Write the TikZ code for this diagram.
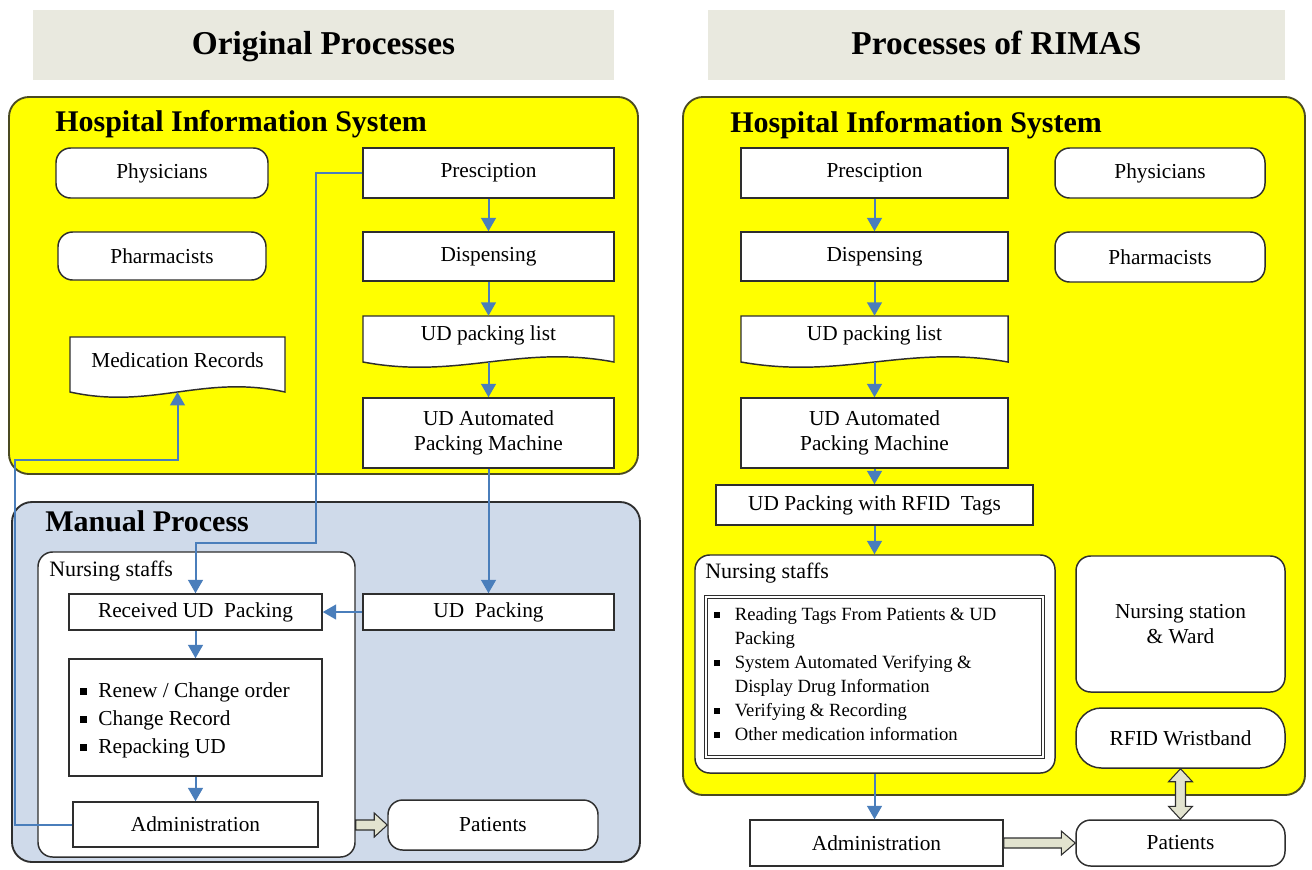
\documentclass[tikz,border=0pt]{standalone}
\usepackage{fontspec}
\setmainfont{Liberation Serif}
\usetikzlibrary{arrows.meta,calc}
\definecolor{hdrfill}{HTML}{E9E9DF}
\definecolor{hisyellow}{HTML}{FFFF00}
\definecolor{hisline}{HTML}{4A4A22}
\definecolor{manfill}{HTML}{CFDAEA}
\definecolor{boxline}{HTML}{2E2E2E}
\definecolor{flowblue}{HTML}{4A7EBB}
\definecolor{fatfill}{HTML}{E2E3CF}
\newcommand\rectnode[7]{%
  \node[#1, minimum width={(#5-#3)*0.75pt}, minimum height={(#6-#4)*0.75pt}] (#2) at ({(#3+#5)/2},{(#4+#6)/2}) {#7};}
% document shape with wavy bottom; (#1b) is the middle of the wave
\newcommand\docnode[6]{% name, x1, y1, x2, yb, text
  \draw[docline] (#2,#3) -- (#4,#3) -- (#4,#5)
    .. controls ({#2+0.62*(#4-#2)},{#5-18}) and ({#2+0.38*(#4-#2)},{#5+18}) .. (#2,#5) -- cycle;
  \node[doctext, minimum width={(#4-#2)*0.75pt}, minimum height={(#5-#3-8)*0.75pt}] (#1) at ({(#2+#4)/2},{(#3+#5-8)/2}) {#6};
  \coordinate (#1b) at ({(#2+#4)/2},#5);}
\newcommand\sqb[1]{\makebox[#1][l]{\rule[0.25ex]{0.32em}{0.32em}}}
\tikzset{
  hdr/.style={fill=hdrfill, inner sep=0pt},
  hdrtext/.style={anchor=base, inner sep=0pt, font=\fontsize{25}{29}\selectfont\bfseries},
  region/.style={draw=hisline, line width=1.4pt, rounded corners=15pt},
  hisregion/.style={region, fill=hisyellow},
  manregion/.style={region, draw=boxline, fill=manfill},
  regtitle/.style={anchor=base west, inner sep=0pt, font=\fontsize{22.5}{26}\selectfont\bfseries},
  box/.style={draw=boxline, fill=white, line width=1.1pt, inner sep=0pt, align=center, font=\fontsize{16}{19}\selectfont},
  rbox/.style={box, rounded corners=11pt},
  group/.style={box, rounded corners=11pt},
  docline/.style={draw=boxline, fill=white, line width=1.1pt},
  doctext/.style={inner sep=0pt, align=center, font=\fontsize{16}{19}\selectfont},
  grouplabel/.style={anchor=west, inner sep=0pt, font=\fontsize{16.5}{19}\selectfont},
  listtext/.style={anchor=north west, inner sep=0pt, align=left},
  flow/.style={draw=flowblue, line width=1.5pt, -{Triangle[width=11pt,length=10pt]}},
  fat/.style={draw=boxline, fill=fatfill, line width=0.8pt, line join=miter},
}
\begin{document}
\begin{tikzpicture}[x=0.75pt, y=-0.75pt]
\useasboundingbox (0,0) rectangle (1312,869);

% headers
\rectnode{hdr}{hdrL}{33}{10}{614}{80}{}
\node[hdrtext] (hdrLt) at (323.5,54) {Original Processes};
\rectnode{hdr}{hdrR}{708}{10}{1285}{80}{}
\node[hdrtext] (hdrRt) at (996.5,54) {Processes of RIMAS};

% ================= LEFT =================
\rectnode{hisregion}{hisL}{9}{97}{638}{474}{}
\node[regtitle] (hisLt) at (55,131) {Hospital Information System};
\rectnode{manregion}{manL}{12}{502}{640}{862}{}
\node[regtitle] (manLt) at (45,531) {Manual Process};

\rectnode{rbox}{physL}{56}{148}{268}{198}{Physicians}
\rectnode{rbox}{pharmL}{58}{232}{266}{280}{Pharmacists}
\docnode{medL}{70}{337}{285}{392}{Medication Records}
\rectnode{box}{prescL}{363}{148}{614}{198}{Presciption}
\rectnode{box}{dispL}{363}{232}{614}{281}{Dispensing}
\docnode{udlL}{363}{316}{614}{362}{UD packing list}
\rectnode{box}{autoL}{363}{398}{614}{468}{UD Automated\\Packing Machine}

\rectnode{group}{nurseL}{38}{552}{355}{857}{}
\node[grouplabel] (nurseLt) at (49,571) {Nursing staffs};
\rectnode{box}{recvL}{69}{594}{322}{630}{Received UD\ \ Packing}
\rectnode{box}{bulL}{69}{659}{322}{776}{}
\node[listtext, font=\fontsize{16}{21}\selectfont] (bulLt) at (80,682) {%
  \sqb{0.85em}Renew / Change order\\\sqb{0.85em}Change Record\\\sqb{0.85em}Repacking UD};
\rectnode{box}{admL}{73}{802}{318}{847}{Administration}
\rectnode{rbox}{patL}{388}{800}{598}{850}{Patients}
\rectnode{box}{udpL}{363}{594}{614}{630}{UD\ \ Packing}

\draw[flow] (prescL.south) -- (dispL.north);
\draw[flow] (dispL.south) -- (udlL.north);
\draw[flow] (udlLb) -- (autoL.north);
\draw[flow] (autoL.south) -- (udpL.north);
\draw[flow] (udpL.west) -- (recvL.east);
\draw[flow] (recvL.south) -- (bulL.north);
\draw[flow] (bulL.south) -- (admL.north);
\draw[flow] (prescL.west) -- (316,173) -- (316,543) -| (recvL.north);
\draw[flow] (admL.west) -- (15,824.5) -- (15,460) -| (medLb);

\coordinate (fa1) at (nurseL.east |- patL.west);
\draw[fat] ($(fa1)+(0,-5)$) -- ($(patL.west)+(-13,-5)$) -- ($(patL.west)+(-13,-12)$) -- (patL.west)
  -- ($(patL.west)+(-13,12)$) -- ($(patL.west)+(-13,5)$) -- ($(fa1)+(0,5)$) -- cycle;

% ================= RIGHT =================
\rectnode{hisregion}{hisR}{683}{97}{1305}{795}{}
\node[regtitle] (hisRt) at (730,132) {Hospital Information System};

\rectnode{box}{prescR}{741}{148}{1008}{198}{Presciption}
\rectnode{rbox}{physR}{1055}{148}{1265}{198}{Physicians}
\rectnode{rbox}{pharmR}{1055}{232}{1265}{282}{Pharmacists}
\rectnode{box}{dispR}{741}{232}{1008}{281}{Dispensing}
\docnode{udlR}{741}{316}{1008}{362}{UD packing list}
\rectnode{box}{autoR}{741}{398}{1008}{468}{UD Automated\\Packing Machine}
\rectnode{box}{tagsR}{716}{485}{1033}{525}{UD Packing with RFID\ \ Tags}
\rectnode{group}{nurseR}{695}{555}{1055}{773}{}
\node[grouplabel] (nurseRt) at (705,573) {Nursing staffs};
\rectnode{box, double, double distance=1.3pt, line width=0.6pt}{bulR}{706}{597}{1043}{757}{}
\node[listtext, font=\fontsize{14}{18}\selectfont] (bulRt) at (714,607) {%
  \sqb{1.1em}Reading Tags From Patients \& UD\\\hspace*{1.1em}Packing\\
  \sqb{1.1em}System Automated Verifying \&\\\hspace*{1.1em}Display Drug Information\\
  \sqb{1.1em}Verifying \& Recording\\
  \sqb{1.1em}Other medication information};
\rectnode{rbox}{stationR}{1076}{556}{1285}{692}{Nursing station\\\& Ward}
\rectnode{box, rounded corners=19pt}{wristR}{1076}{708}{1285}{768}{RFID Wristband}
\rectnode{box}{admR}{750}{820}{1003}{866}{Administration}
\rectnode{rbox}{patR}{1076}{820}{1285}{866}{Patients}

\draw[flow] (prescR.south) -- (dispR.north);
\draw[flow] (dispR.south) -- (udlR.north);
\draw[flow] (udlRb) -- (autoR.north);
\draw[flow] (autoR.south) -- (tagsR.north -| autoR.south);
\draw[flow] (tagsR.south -| autoR.south) -- (nurseR.north -| autoR.south);
\draw[flow] (nurseR.south -| autoR.south) -- (admR.north -| autoR.south);

\draw[fat] ($(admR.east)+(0,-5)$) -- ($(patR.west)+(-14,-5)$) -- ($(patR.west)+(-14,-12)$) -- (patR.west)
  -- ($(patR.west)+(-14,12)$) -- ($(patR.west)+(-14,5)$) -- ($(admR.east)+(0,5)$) -- cycle;
\draw[fat] (wristR.south) -- ($(wristR.south)+(12,13)$) -- ($(wristR.south)+(5,13)$) -- ($(patR.north)+(5,-13)$)
  -- ($(patR.north)+(12,-13)$) -- (patR.north) -- ($(patR.north)+(-12,-13)$) -- ($(patR.north)+(-5,-13)$)
  -- ($(wristR.south)+(-5,13)$) -- ($(wristR.south)+(-12,13)$) -- cycle;
\end{tikzpicture}
\end{document}
